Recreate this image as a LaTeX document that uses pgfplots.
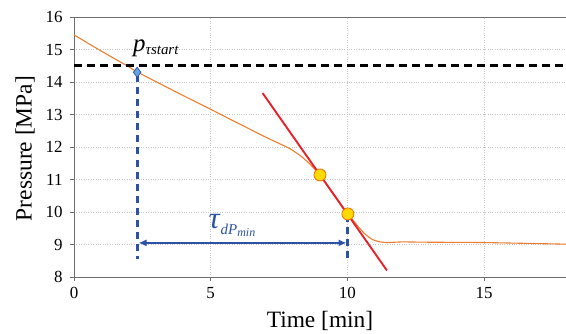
\documentclass[border=0pt]{standalone}
\usepackage{pgfplots}
\pgfplotsset{compat=1.18}
\usepackage{fontspec}
\setmainfont{Liberation Serif}
\usetikzlibrary{arrows.meta}

\definecolor{curveorange}{RGB}{237,125,49}
\definecolor{tanred}{RGB}{232,32,40}
\definecolor{markblue}{RGB}{44,82,168}
\definecolor{diamondfill}{RGB}{100,165,220}
\definecolor{ptyellow}{RGB}{255,218,0}
\definecolor{axisgray}{RGB}{110,110,110}

\begin{document}
\begin{tikzpicture}
\begin{axis}[
  at={(0,0)}, anchor=south west,
  scale only axis, width=492bp, height=260bp,
  xmin=0, xmax=18, ymin=8, ymax=16,
  xtick={0,5,10,15}, ytick={8,9,...,16},
  grid=major,
  grid style={dotted, gray!45, line width=0.6pt},
  axis line style={axisgray, line width=0.9pt},
  tick style={axisgray, line width=0.7pt},
  tick align=outside, major tick length=4bp,
  xtick pos=bottom, ytick pos=left,
  xticklabel={\pgfmathprintnumber[assume math mode=true]{\tick}},
  yticklabel={\pgfmathprintnumber[assume math mode=true]{\tick}},
  tick label style={font=\fontsize{17}{19}\selectfont},
  xticklabel style={yshift=-3bp},
  yticklabel style={xshift=-4bp},
  xlabel={Time [min]}, ylabel={Pressure [MPa]},
  label style={font=\fontsize{23.5}{26}\selectfont},
  xlabel style={at={(axis description cs:0.5,0)}, anchor=center, yshift=-44bp},
  ylabel style={at={(axis description cs:-0.0996,0.494)}, anchor=center},
  clip=false,
]
% pressure record
\addplot[curveorange, line width=1.1pt, smooth, tension=0.3] coordinates {
  (0,15.45) (0.5,15.2) (1,14.95) (1.5,14.71) (2,14.47) (2.31,14.31)
  (3,14.01) (4,13.58) (5,13.16) (5.7,12.86) (6.5,12.52) (7,12.31)
  (7.5,12.11) (7.9,11.95) (8.3,11.72) (8.6,11.5) (9.0,11.14)
  (9.5,10.55) (10.0,9.97) (10.3,9.65) (10.6,9.36) (10.9,9.16)
  (11.2,9.08) (11.5,9.06) (12,9.08) (13,9.07) (15,9.06) (18,9.01)
};
% start threshold
\addplot[black, line width=2.8pt, dash pattern=on 8bp off 5bp] coordinates {(0,14.5) (18,14.5)};
% two points on the steepest part
\addplot[only marks, mark=*, mark size=6bp,
  mark options={fill=ptyellow, draw=orange!85!red, line width=0.8pt}]
  coordinates {(9.0,11.14) (10.02,9.94)};
% tangent through them
\addplot[tanred, line width=1.9pt] coordinates {(6.9,13.66) (11.45,8.2)};
% interval markers
\addplot[markblue, line width=2.8pt, dash pattern=on 7bp off 5bp] coordinates {(2.31,14.2) (2.31,8.55)};
\addplot[markblue, line width=2.8pt, dash pattern=on 7bp off 5bp] coordinates {(10.02,9.9) (10.02,8.55)};
\addplot[markblue, line width=2.4pt, {Latex[length=8bp,width=7bp]}-{Latex[length=8bp,width=7bp]}]
  coordinates {(2.36,9.05) (9.97,9.05)};
\addplot[only marks, mark=diamond*, mark size=5bp,
  mark options={fill=diamondfill, draw=markblue, line width=0.7pt}]
  coordinates {(2.31,14.30)};
% labels
\node[anchor=base, inner sep=0pt] at (axis cs:3.0,14.93)
  {\fontsize{25}{28}\selectfont\textit{p}\raisebox{-3bp}{\fontsize{15}{16}\selectfont\textit{τstart}}};
\node[anchor=base, inner sep=0pt, text=markblue] at (axis cs:5.78,9.49)
  {\fontsize{31}{34}\selectfont\textit{τ}\raisebox{-6bp}{\fontsize{15}{17}\selectfont\textit{dP}\raisebox{-2bp}{\fontsize{12}{14}\selectfont\textit{min}}}};
\end{axis}
\pgfresetboundingbox
\path (-74bp,-57bp) rectangle (492bp,277bp);
\end{tikzpicture}
\end{document}
